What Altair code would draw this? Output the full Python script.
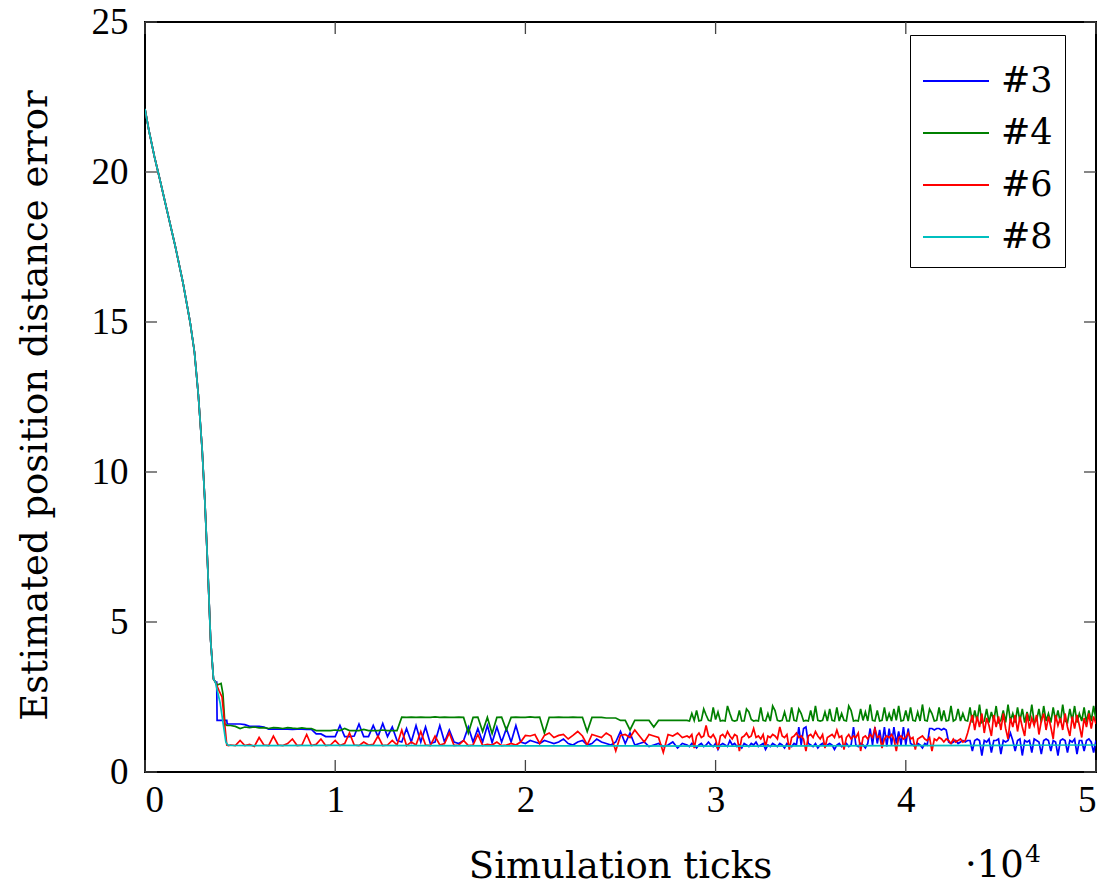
import altair as alt
import pandas as pd

# ---------------- data ----------------
series_names = ["#3", "#4", "#6", "#8"]
series_colors = ["#0000ff", "#008000", "#ff0000", "#00bfbf"]

# shared initial decay (x in units of 10^4 ticks)
decay_x = [0.0, 0.02, 0.05, 0.08, 0.12, 0.16, 0.20, 0.237, 0.26, 0.28, 0.30, 0.315, 0.33, 0.345, 0.36]
decay_y = [22.1, 21.4, 20.5, 19.7, 18.6, 17.5, 16.3, 15.0, 14.0, 12.6, 10.8, 9.0, 6.8, 4.4, 3.1]

# per-series transition after the decay
blue_tx = [0.37, 0.377, 0.379, 0.43, 0.432]
blue_ty = [3.0, 3.0, 1.72, 1.72, 1.60]
green_tx = [0.37, 0.38, 0.40, 0.41, 0.42, 0.43]
green_ty = [3.0, 2.9, 2.95, 2.6, 1.6, 1.55]
red_tx = [0.37, 0.39, 0.405, 0.43, 0.44]
red_ty = [3.0, 2.7, 2.5, 0.9, 0.88]
cyan_tx = [0.37, 0.395, 0.425, 0.435]
cyan_ty = [3.0, 2.3, 1.0, 0.9]

# part 1: sampled from x = 0.45 to 2.825 every 0.025 (x10^4 ticks)
grid1_start = 0.45
grid1_step = 0.025
# part 2: sampled from x = 2.85 to 5.0 every 0.0125 (x10^4 ticks)
grid2_start = 2.85
grid2_step = 0.0125

blue_y1 = [
    1.60, 1.60, 1.60, 1.58, 1.52, 1.52, 1.52, 1.50, 1.43, 1.43,
    1.43, 1.43, 1.43, 1.42, 1.43, 1.43, 1.42, 1.42, 1.27, 1.27,
    1.18, 1.18, 1.18, 1.55, 1.18, 1.18, 1.20, 1.60, 1.18, 1.18,
    1.55, 1.18, 1.62, 1.18, 1.50, 1.05, 1.00, 1.45, 1.00, 1.55,
    1.00, 1.50, 0.95, 1.00, 1.55, 1.00, 1.40, 1.00, 0.95, 1.05,
    1.50, 1.00, 1.45, 1.00, 1.55, 0.98, 1.50, 1.00, 1.45, 1.00,
    1.55, 1.00, 0.95, 1.05, 1.00, 0.95, 1.05, 1.00, 0.95, 1.00,
    1.10, 0.95, 0.90, 1.00, 1.05, 0.90, 0.95, 1.10, 1.00, 0.95,
    0.90, 1.00, 1.35, 0.95, 1.30, 0.90, 0.95, 1.00, 0.85, 0.90,
    0.95, 0.85, 0.90, 1.00, 0.80, 0.95,
]
blue_y2 = [
    0.90, 0.85, 0.95, 0.90, 0.80, 0.90, 0.95, 0.85, 0.90, 1.00,
    0.90, 0.85, 0.95, 0.75, 0.90, 0.95, 0.90, 0.85, 1.05, 0.90,
    0.95, 0.85, 0.90, 0.80, 0.95, 0.90, 0.85, 0.95, 0.90, 1.00,
    0.85, 0.90, 0.95, 0.75, 0.90, 0.85, 0.95, 0.90, 0.85, 0.95,
    0.90, 0.80, 0.95, 0.90, 0.85, 0.95, 0.90, 1.50, 0.90, 1.45,
    1.50, 0.95, 0.90, 0.85, 0.95, 0.80, 0.90, 0.95, 0.85, 0.90,
    0.95, 0.90, 0.75, 0.90, 0.95, 0.85, 0.90, 0.95, 0.85, 0.90,
    1.50, 0.90, 0.85, 0.95, 0.90, 0.80, 0.95, 1.45, 0.90, 1.50,
    0.95, 1.40, 0.90, 1.50, 0.85, 1.45, 0.90, 1.50, 0.95, 1.35,
    0.90, 1.50, 0.90, 1.45, 0.95, 0.90, 0.85, 0.95, 0.90, 0.80,
    0.95, 0.90, 1.45, 1.45, 1.40, 1.45, 1.45, 1.40, 1.45, 1.40,
    1.00, 0.95, 1.00, 1.05, 0.95, 1.00, 1.05, 1.00, 1.05, 1.05,
    0.70, 1.05, 1.10, 1.05, 0.55, 1.05, 1.00, 1.10, 0.65, 1.05,
    1.05, 1.10, 0.60, 1.05, 1.00, 1.05, 1.30, 1.05, 0.70, 1.05,
    1.10, 0.55, 1.05, 1.00, 1.05, 0.65, 1.10, 1.05, 1.00, 0.60,
    1.05, 1.10, 1.05, 0.70, 1.05, 1.00, 0.55, 1.05, 1.10, 1.05,
    0.65, 1.05, 1.00, 1.10, 0.60, 1.05, 1.05, 0.70, 1.05, 1.10,
    1.00, 0.65, 1.05,
]

green_y1 = [
    1.55, 1.52, 1.45, 1.50, 1.48, 1.50, 1.47, 1.48, 1.45, 1.48,
    1.47, 1.45, 1.48, 1.46, 1.45, 1.47, 1.45, 1.45, 1.38, 1.38,
    1.38, 1.38, 1.40, 1.38, 1.45, 1.38, 1.38, 1.38, 1.42, 1.38,
    1.38, 1.38, 1.40, 1.38, 1.38, 1.38, 1.83, 1.82, 1.83, 1.82,
    1.83, 1.82, 1.82, 1.84, 1.82, 1.83, 1.82, 1.82, 1.83, 1.82,
    1.30, 1.82, 1.83, 1.35, 1.82, 1.28, 1.82, 1.83, 1.40, 1.82,
    1.83, 1.82, 1.82, 1.84, 1.82, 1.83, 1.30, 1.82, 1.82, 1.83,
    1.82, 1.82, 1.83, 1.82, 1.82, 1.35, 1.82, 1.82, 1.82, 1.80,
    1.80, 1.80, 1.72, 1.72, 1.40, 1.72, 1.72, 1.72, 1.72, 1.50,
    1.72, 1.72, 1.72, 1.72, 1.72, 1.72,
]
green_y2 = [
    1.72, 1.70, 1.95, 1.72, 2.05, 1.70, 1.72, 2.10, 1.90, 1.72,
    1.70, 2.15, 1.75, 2.00, 1.70, 1.72, 1.70, 2.20, 1.95, 1.72,
    1.70, 1.72, 2.05, 1.70, 1.70, 2.10, 2.00, 1.75, 1.70, 1.72,
    1.70, 2.15, 1.72, 1.70, 1.95, 1.70, 2.20, 2.05, 1.72, 1.70,
    1.72, 2.00, 1.70, 1.70, 2.15, 1.72, 1.70, 2.10, 1.95, 1.70,
    1.72, 1.70, 2.05, 1.70, 2.20, 1.72, 1.70, 1.72, 2.00, 1.70,
    2.10, 1.72, 1.70, 2.15, 1.70, 1.95, 1.72, 1.70, 2.20, 2.05,
    1.70, 1.72, 1.70, 2.10, 1.72, 2.00, 1.70, 2.25, 1.72, 1.70,
    2.05, 1.70, 1.72, 2.15, 1.70, 1.95, 1.70, 2.10, 1.72, 2.20,
    1.70, 1.72, 2.05, 1.70, 2.15, 1.72, 1.70, 2.00, 1.70, 2.25,
    1.72, 1.70, 2.10, 1.95, 1.70, 1.72, 2.15, 1.70, 2.05, 1.70,
    1.72, 2.20, 1.70, 1.75, 2.10, 1.70, 1.95, 1.72, 1.70, 2.15,
    1.65, 2.05, 1.70, 2.25, 1.65, 1.70, 2.10, 1.65, 2.00, 1.70,
    2.20, 1.65, 1.72, 2.05, 1.65, 2.25, 1.70, 1.95, 1.65, 2.15,
    1.70, 2.10, 1.65, 2.00, 1.70, 2.25, 1.65, 1.72, 2.10, 1.65,
    2.20, 1.70, 1.95, 1.65, 2.15, 1.70, 2.05, 1.65, 2.25, 1.70,
    1.65, 2.10, 1.70, 2.20, 1.65, 1.95, 1.70, 2.15, 1.65, 2.05,
    1.70, 2.20, 1.75,
]

red_y1 = [
    0.90, 0.88, 1.05, 0.88, 0.92, 0.85, 1.15, 0.90, 0.88, 1.20,
    0.90, 0.88, 0.95, 1.10, 0.88, 0.90, 1.25, 0.88, 0.92, 1.10,
    0.88, 0.90, 1.05, 0.88, 0.95, 1.30, 0.90, 0.88, 1.00, 0.90,
    0.92, 1.20, 0.88, 0.90, 1.05, 0.90, 1.40, 0.88, 1.00, 0.90,
    1.35, 0.90, 0.88, 1.20, 0.90, 0.95, 1.30, 0.88, 0.90, 1.05,
    0.88, 0.90, 1.25, 0.88, 0.92, 0.90, 1.00, 0.88, 0.90, 0.95,
    0.90, 1.00, 1.22, 1.20, 1.25, 0.95, 1.22, 1.30, 1.15, 1.22,
    1.25, 1.10, 1.22, 1.35, 1.20, 0.90, 1.25, 1.20, 1.15, 1.30,
    1.20, 0.70, 1.22, 1.25, 1.15, 1.40, 1.20, 1.00, 1.25, 1.20,
    1.15, 0.65, 1.25, 1.20, 1.30, 1.15,
]
red_y2 = [
    1.20, 1.15, 1.25, 0.80, 1.20, 1.30, 1.15, 1.20, 1.55, 1.20,
    1.15, 1.25, 1.10, 0.75, 1.20, 1.25, 1.15, 1.35, 1.20, 1.10,
    1.25, 1.20, 0.70, 1.15, 1.20, 1.30, 1.15, 1.20, 1.45, 1.15,
    1.20, 1.10, 1.25, 0.85, 1.20, 1.15, 1.25, 1.20, 1.10, 1.50,
    1.20, 1.15, 1.25, 0.75, 1.15, 1.20, 1.30, 1.15, 1.20, 1.10,
    0.70, 1.20, 1.25, 1.15, 1.35, 1.20, 1.10, 1.25, 0.80, 1.15,
    1.20, 1.25, 1.15, 1.40, 1.15, 1.20, 0.75, 1.15, 1.25, 1.10,
    1.20, 1.15, 1.30, 0.70, 1.15, 1.20, 1.10, 1.25, 1.15, 1.45,
    1.15, 1.20, 0.80, 1.10, 1.20, 1.15, 1.25, 1.10, 0.70, 1.15,
    1.20, 1.10, 1.15, 1.30, 1.10, 1.15, 0.75, 1.10, 1.15, 1.20,
    1.10, 1.05, 1.15, 0.70, 1.10, 1.05, 1.15, 1.10, 1.00, 1.10,
    1.05, 0.95, 1.10, 1.00, 1.05, 1.10, 1.00, 1.05, 1.30, 1.60,
    1.90, 1.40, 1.85, 1.50, 1.95, 1.30, 1.80, 1.55, 1.20, 1.90,
    1.50, 1.85, 1.40, 1.95, 1.45, 1.10, 1.80, 1.50, 1.90, 1.35,
    1.85, 1.50, 1.20, 1.95, 1.45, 1.80, 1.55, 1.90, 1.25, 1.70,
    1.95, 1.40, 1.85, 1.50, 1.10, 1.90, 1.55, 1.80, 1.40, 1.95,
    1.50, 1.20, 1.85, 1.45, 1.90, 1.55, 1.15, 1.80, 1.50, 1.95,
    1.45, 1.85, 1.60,
]

cyan_x = [0.45, 0.6, 1.0, 1.5, 2.0, 2.5, 3.0, 3.5, 4.0, 4.5, 5.0]
cyan_y = [0.89, 0.88, 0.89, 0.88, 0.87, 0.87, 0.86, 0.87, 0.88, 0.89, 0.90]

x_ticks = [0, 1, 2, 3, 4, 5]
y_ticks = [0, 5, 10, 15, 20, 25]

# ---------------- build table ----------------
def grid(start, step, n):
    return [round(start + step * i, 5) for i in range(n)]

def sampled(y1, y2):
    return grid(grid1_start, grid1_step, len(y1)) + grid(grid2_start, grid2_step, len(y2)), y1 + y2

rows = []
def add(name, xs, ys):
    for xv, yv in zip(xs, ys):
        rows.append({"s": name, "x": xv, "y": yv, "i": len(rows)})

bx, by = sampled(blue_y1, blue_y2)
gx, gy = sampled(green_y1, green_y2)
rx, ry = sampled(red_y1, red_y2)
add("#3", decay_x + blue_tx + bx, decay_y + blue_ty + by)
add("#4", decay_x + green_tx + gx, decay_y + green_ty + gy)
add("#6", decay_x + red_tx + rx, decay_y + red_ty + ry)
add("#8", decay_x + cyan_tx + cyan_x, decay_y + cyan_ty + cyan_y)
df = pd.DataFrame(rows)

W, H = 951, 750
TICK_FONT = "Liberation Serif"
TEXT_FONT = "DejaVu Serif"
FS = 37     # tick labels
TFS = 37    # axis titles
LFS = 35    # legend labels

xscale = alt.Scale(domain=[0, 5], nice=False, zero=False)
yscale = alt.Scale(domain=[0, 25], nice=False)
color = alt.Color(
    "s:N",
    scale=alt.Scale(domain=series_names, range=series_colors),
    legend=alt.Legend(
        title=None,
        orient="none",
        legendX=765,
        legendY=13,
        direction="vertical",
        fillColor="white",
        strokeColor="black",
        padding=12,
        symbolType="stroke",
        symbolSize=4356,
        symbolStrokeWidth=2,
        labelFont=TEXT_FONT,
        labelFontSize=LFS,
        labelColor="black",
        labelOffset=11,
        rowPadding=0,
    ),
)

layers = []
for name in series_names:
    layers.append(
        alt.Chart(df)
        .transform_filter(alt.datum.s == name)
        .mark_line(strokeWidth=1.7, clip=True)
        .encode(
            x=alt.X(
                "x:Q",
                scale=xscale,
                axis=alt.Axis(
                    values=x_ticks, format="d", ticks=False, domain=False, grid=False,
                    labelFont=TICK_FONT, labelFontSize=FS, labelColor="black",
                    labelPadding=10, title="Simulation ticks",
                    titleFont=TEXT_FONT, titleFontSize=TFS, titleFontWeight="normal",
                    titleColor="black", titleX=475, titleY=105,
                    titleBaseline="alphabetic", titleAlign="center",
                ),
            ),
            y=alt.Y(
                "y:Q",
                scale=yscale,
                axis=alt.Axis(
                    values=y_ticks, format="d", ticks=False, domain=False, grid=False,
                    labelFont=TICK_FONT, labelFontSize=FS, labelColor="black",
                    labelPadding=17, title="Estimated position distance error",
                    titleFont=TEXT_FONT, titleFontSize=TFS, titleFontWeight="normal",
                    titleColor="black", titleX=-110, titleY=383, titleAngle=-90,
                    titleBaseline="middle", titleAlign="center",
                ),
            ),
            color=color,
            order="i:Q",
        )
    )

xt = pd.DataFrame({"v": x_ticks})
yt = pd.DataFrame({"v": y_ticks})
TICK = 12
tick_color = "#444444"
xticks_b = alt.Chart(xt).mark_rule(color=tick_color, strokeWidth=1.3).encode(
    x=alt.X("v:Q", scale=xscale), y=alt.value(H), y2=alt.value(H - TICK))
xticks_t = alt.Chart(xt).mark_rule(color=tick_color, strokeWidth=1.3).encode(
    x=alt.X("v:Q", scale=xscale), y=alt.value(0), y2=alt.value(TICK))
yticks_l = alt.Chart(yt).mark_rule(color=tick_color, strokeWidth=1.3).encode(
    y=alt.Y("v:Q", scale=yscale), x=alt.value(0), x2=alt.value(TICK))
yticks_r = alt.Chart(yt).mark_rule(color=tick_color, strokeWidth=1.3).encode(
    y=alt.Y("v:Q", scale=yscale), x=alt.value(W), x2=alt.value(W - TICK))

mult = alt.Chart(pd.DataFrame({"t": ["·10"]})).mark_text(
    font=TEXT_FONT, fontSize=TFS, align="left", baseline="alphabetic", color="black"
).encode(text="t:N", x=alt.value(820), y=alt.value(855))
mult_exp = alt.Chart(pd.DataFrame({"t": ["4"]})).mark_text(
    font=TEXT_FONT, fontSize=25, align="left", baseline="alphabetic", color="black"
).encode(text="t:N", x=alt.value(880), y=alt.value(840))

chart = (
    alt.layer(xticks_b, xticks_t, yticks_l, yticks_r, *layers, mult, mult_exp)
    .properties(
        width=W, height=H,
        padding={"left": 137, "top": 14, "right": 5, "bottom": 117},
        autosize=alt.AutoSizeParams(type="none"),
        background="white",
    )
    .configure_view(stroke="black", strokeWidth=2)
)

chart.save("out.html", embed_options={"renderer": "svg", "actions": False})
